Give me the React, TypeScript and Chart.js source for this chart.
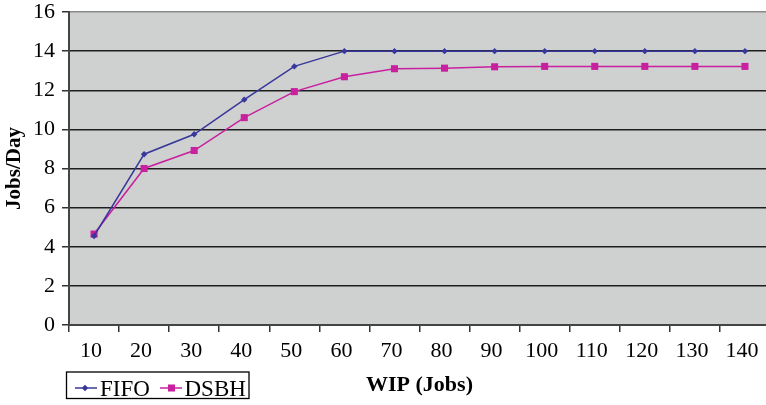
import React, { useEffect, useRef } from "react";
import { Chart, registerables } from "chart.js";

Chart.register(...registerables);

const wipLabels = ["10", "20", "30", "40", "50", "60", "70", "80", "90", "100", "110", "120", "130", "140"];
const fifoValues = [4.55, 8.73, 9.75, 11.52, 13.22, 14.0, 14.0, 14.0, 14.0, 14.0, 14.0, 14.0, 14.0, 14.0];
const dsbhValues = [4.65, 8.0, 8.92, 10.6, 11.93, 12.69, 13.1, 13.13, 13.2, 13.22, 13.22, 13.22, 13.22, 13.22];
const seriesNames = ["FIFO", "DSBH"];
const xTitle = "WIP (Jobs)";
const yTitle = "Jobs/Day";

const FIFO_COLOR = "#38379A";
const DSBH_COLOR = "#C8209F";
const PLOT_BG = "#CFD1D1";
const SERIF = "'Liberation Serif', 'Times New Roman', serif";

const plotBgPlugin = {
  id: "plotBg",
  beforeDraw(chart: any) {
    const { ctx, chartArea } = chart;
    ctx.save();
    ctx.fillStyle = PLOT_BG;
    ctx.fillRect(chartArea.left, chartArea.top, chartArea.right - chartArea.left, chartArea.bottom - chartArea.top);
    ctx.restore();
  },
};

const legendBoxPlugin = {
  id: "legendBox",
  afterDraw(chart: any) {
    const { ctx } = chart;
    const x0 = 66.5, y0 = 372, w = 182.5, h = 26.5;
    ctx.save();
    ctx.strokeStyle = "#000";
    ctx.lineWidth = 1.3;
    ctx.strokeRect(x0, y0, w, h);
    const cy = 388;
    ctx.font = `23px ${SERIF}`;
    ctx.textBaseline = "alphabetic";
    const items = [
      { sx: 75, ex: 97, mx: 85, color: FIFO_COLOR, style: "diamond", tx: 100, i: 0 },
      { sx: 160, ex: 182, mx: 171.5, color: DSBH_COLOR, style: "square", tx: 184.5, i: 1 },
    ];
    for (const it of items) {
      const ds = chart.data.datasets[it.i];
      ctx.strokeStyle = it.color;
      ctx.lineWidth = 1.5;
      ctx.beginPath();
      ctx.moveTo(it.sx, cy);
      ctx.lineTo(it.ex, cy);
      ctx.stroke();
      ctx.fillStyle = it.color;
      if (it.style === "square") {
        ctx.fillRect(it.mx - 3.5, cy - 3.5, 7, 7);
      } else {
        ctx.beginPath();
        ctx.moveTo(it.mx, cy - 3.2);
        ctx.lineTo(it.mx + 3.2, cy);
        ctx.lineTo(it.mx, cy + 3.2);
        ctx.lineTo(it.mx - 3.2, cy);
        ctx.closePath();
        ctx.fill();
      }
      ctx.fillStyle = "#000";
      ctx.fillText(ds.label, it.tx, 396);
    }
    ctx.restore();
  },
};

export default function App() {
  const canvasRef = useRef<HTMLCanvasElement | null>(null);

  useEffect(() => {
    const canvas = canvasRef.current;
    if (!canvas) return;
    let chart: any = null;
    let cancelled = false;
    const build = () => {
      if (cancelled) return;
      chart = new Chart(canvas, {
        type: "line",
        data: {
          labels: wipLabels,
          datasets: [
            {
              label: seriesNames[0],
              data: fifoValues,
              borderColor: FIFO_COLOR,
              backgroundColor: FIFO_COLOR,
              borderWidth: 1.5,
              pointStyle: "rectRot",
              pointRadius: 3.2,
              pointBorderWidth: 0,
              tension: 0,
            },
            {
              label: seriesNames[1],
              data: dsbhValues,
              borderColor: DSBH_COLOR,
              backgroundColor: DSBH_COLOR,
              borderWidth: 1.5,
              pointStyle: "rect",
              pointRadius: 5,
              pointBorderWidth: 0,
              tension: 0,
            },
          ],
        },
        options: {
          responsive: false,
          animation: false,
          layout: { padding: { left: 0, top: 12, right: 10, bottom: 0 } },
          plugins: {
            legend: { display: false },
            tooltip: { enabled: false },
            title: { display: false },
          },
          scales: {
            x: {
              type: "category",
              offset: true,
              grid: {
                offset: true,
                drawOnChartArea: false,
                drawTicks: true,
                tickLength: 7,
                color: "#333",
                lineWidth: 1.5,
              },
              border: { display: true, color: "#444", width: 2 },
              ticks: {
                color: "#000",
                font: { family: SERIF, size: 22 },
                padding: 6,
                labelOffset: -3,
                maxRotation: 0,
                autoSkip: false,
              },
              title: {
                display: true,
                text: xTitle,
                color: "#000",
                font: { family: SERIF, size: 22, weight: "bold" },
                padding: { top: 0, bottom: 6 },
              },
              afterFit: (scale: any) => {
                scale.height = 80;
                scale.paddingLeft = 0;
                scale.paddingRight = 0;
              },
            },
            y: {
              min: 0,
              max: 16,
              ticks: {
                stepSize: 2,
                color: "#000",
                font: { family: SERIF, size: 22 },
                padding: 7,
              },
              grid: {
                color: (c: any) => (c.tick && c.tick.value === 16 ? "#8a8a8a" : "#1e1e1e"),
                lineWidth: 1.5,
                tickLength: 7,
                tickColor: "#333",
              },
              border: { display: true, color: "#444", width: 2 },
              title: {
                display: true,
                text: yTitle,
                color: "#000",
                font: { family: SERIF, size: 21, weight: "bold" },
                padding: { top: 2, bottom: 0 },
              },
              afterFit: (scale: any) => {
                scale.width = 69;
                scale.paddingTop = 0;
                scale.paddingBottom = 0;
              },
            },
          },
        },
        plugins: [plotBgPlugin, legendBoxPlugin],
      } as any);
    };
    const fonts: any = (document as any).fonts;
    if (fonts && fonts.load) {
      Promise.all([
        fonts.load(`22px "Liberation Serif"`),
        fonts.load(`bold 22px "Liberation Serif"`),
      ]).then(build, build);
    } else {
      build();
    }
    return () => {
      cancelled = true;
      if (chart) chart.destroy();
    };
  }, []);

  return (
    <div style={{ position: "absolute", left: 0, top: 0, width: 766, height: 405, overflow: "hidden", background: "#fff" }}>
      <canvas ref={canvasRef} width={780} height={405} style={{ display: "block" }} />
    </div>
  );
}
